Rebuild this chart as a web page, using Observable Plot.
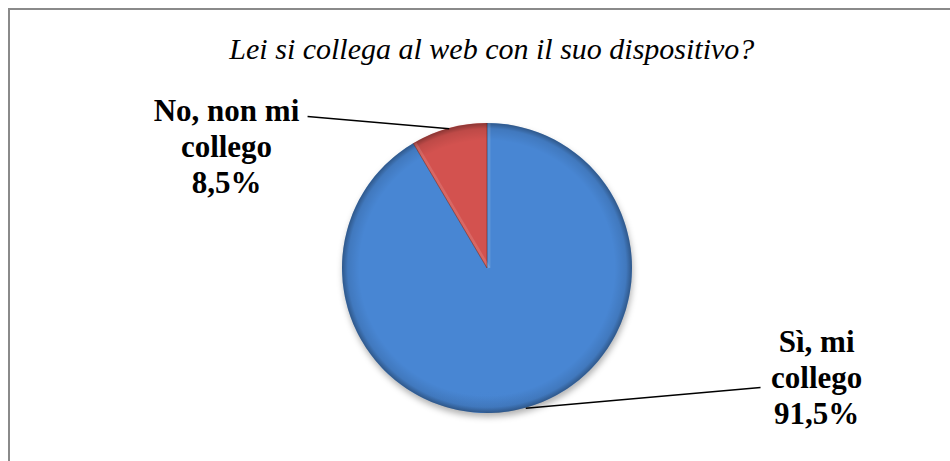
<!DOCTYPE html>
<html>
<head>
<meta charset="utf-8">
<script src="https://cdn.jsdelivr.net/npm/d3@7"></script>
<script src="https://cdn.jsdelivr.net/npm/@observablehq/plot@0.6"></script>
<style>
  html, body { margin: 0; padding: 0; background: #fff; overflow: hidden; }
  #wrap { position: relative; width: 950px; height: 461px; overflow: hidden; }
  #frame { position: absolute; left: 8px; top: 8px; width: 1200px; height: 1200px;
           border: 2px solid #8a8a8a; box-sizing: border-box; }
  #chart { position: absolute; left: 0; top: 0; }
</style>
</head>
<body>
<div id="wrap"><div id="frame"></div><div id="chart"></div></div>
<script>
// ---- data ----
const title = "Lei si collega al web con il suo dispositivo?";
const categories = ["Sì, mi collego", "No, non mi collego"];
const labelLines = [["Sì, mi", "collego"], ["No, non mi", "collego"]];
const values = [91.5, 8.5];
const colors = ["#417bc4", "#c44b48"];
const topColors = ["#4886d3", "#d3524f"];
const bottomColors = ["#3361a3", "#a83c39"];

// ---- layout (label anchors in pie-radius units) ----
const labelAnchor = [
  {x: 2.27, y: -0.745, lineX: 1.883, lineY: -0.821},
  {x: -1.80, y: 0.848, lineX: -1.241, lineY: 1.048}
];

const pie = d3.pie().sort(null).value(d => d)(values);
const slices = pie.map((p, i) => {
  const mid = (p.startAngle + p.endAngle) / 2;
  const pct = values[i].toFixed(1).replace(".", ",") + "%";
  return {
    category: categories[i],
    value: values[i],
    startAngle: p.startAngle,
    endAngle: p.endAngle,
    rimX: Math.sin(mid),
    rimY: Math.cos(mid),
    labelX: labelAnchor[i].x,
    labelY: labelAnchor[i].y,
    lineX: labelAnchor[i].lineX,
    lineY: labelAnchor[i].lineY,
    text: [...labelLines[i], pct].join("\n"),
    color: colors[i],
    top: topColors[i],
    bottom: bottomColors[i]
  };
});

function pieMark(index, scales) {
  const cx = scales.x(0), cy = scales.y(0);
  const r = scales.x(1) - scales.x(0);
  const g = d3.create("svg:g");
  const defs = g.append("defs");
  const f = defs.append("filter").attr("id", "pieShadow")
    .attr("x", "-20%").attr("y", "-20%").attr("width", "140%").attr("height", "140%");
  f.append("feGaussianBlur").attr("stdDeviation", 3);
  g.append("circle").attr("cx", cx + 1).attr("cy", cy + 4).attr("r", r)
    .attr("fill", "rgba(0,0,0,0.3)").attr("filter", "url(#pieShadow)");
  const arc = d3.arc().innerRadius(0).outerRadius(r);
  slices.forEach((s, i) => {
    const lg = defs.append("linearGradient").attr("id", "sg" + i)
      .attr("gradientUnits", "userSpaceOnUse")
      .attr("x1", cx).attr("y1", cy - r).attr("x2", cx).attr("y2", cy + r);
    lg.append("stop").attr("offset", "0%").attr("stop-color", s.top);
    lg.append("stop").attr("offset", "50%").attr("stop-color", s.color);
    lg.append("stop").attr("offset", "100%").attr("stop-color", s.bottom);
    g.append("path")
      .attr("transform", `translate(${cx},${cy})`)
      .attr("d", arc({startAngle: s.startAngle, endAngle: s.endAngle}))
      .attr("fill", `url(#sg${i})`);
  });
  const rg = defs.append("radialGradient").attr("id", "rim")
    .attr("gradientUnits", "userSpaceOnUse")
    .attr("cx", cx).attr("cy", cy).attr("r", r);
  rg.append("stop").attr("offset", "88%").attr("stop-color", "#000").attr("stop-opacity", 0);
  rg.append("stop").attr("offset", "96%").attr("stop-color", "#000").attr("stop-opacity", 0.1);
  rg.append("stop").attr("offset", "100%").attr("stop-color", "#000").attr("stop-opacity", 0.35);
  g.append("circle").attr("cx", cx).attr("cy", cy).attr("r", r).attr("fill", "url(#rim)");
  slices.forEach(s => {
    const ex = cx + r * Math.sin(s.startAngle), ey = cy - r * Math.cos(s.startAngle);
    // light bevel ridge then dark edge
    g.append("line")
      .attr("x1", cx + 2).attr("y1", cy).attr("x2", ex + 2).attr("y2", ey)
      .attr("stroke", "#ffffff").attr("stroke-opacity", 0.12).attr("stroke-width", 3);
    g.append("line")
      .attr("x1", cx).attr("y1", cy).attr("x2", ex).attr("y2", ey)
      .attr("stroke", "#5a1f1d").attr("stroke-opacity", 0.5).attr("stroke-width", 1);
  });
  return g.node();
}

const serif = "'Liberation Serif', 'Times New Roman', serif";
const chart = Plot.plot({
  width: 950,
  height: 461,
  margin: 0,
  x: {domain: [-1, 1], range: [342, 632], axis: null},
  y: {domain: [-1, 1], range: [413, 123], axis: null},
  style: {background: "transparent", overflow: "visible", fontFamily: serif},
  marks: [
    pieMark,
    Plot.link(slices, {
      x1: "rimX", y1: "rimY", x2: "lineX", y2: "lineY",
      stroke: "#000", strokeWidth: 1.5
    }),
    Plot.text(slices, {
      x: "labelX", y: "labelY", text: "text",
      fontFamily: serif, fontWeight: "bold", fontSize: 31,
      lineHeight: 1.16, lineAnchor: "middle", textAnchor: "middle", fill: "#000"
    }),
    Plot.text([title], {
      x: [0.03], y: [1.51], text: d => d,
      fontFamily: serif, fontStyle: "italic", fontSize: 30,
      lineAnchor: "middle", textAnchor: "middle", fill: "#000"
    })
  ]
});
document.getElementById("chart").appendChild(chart);
</script>
</body>
</html>
